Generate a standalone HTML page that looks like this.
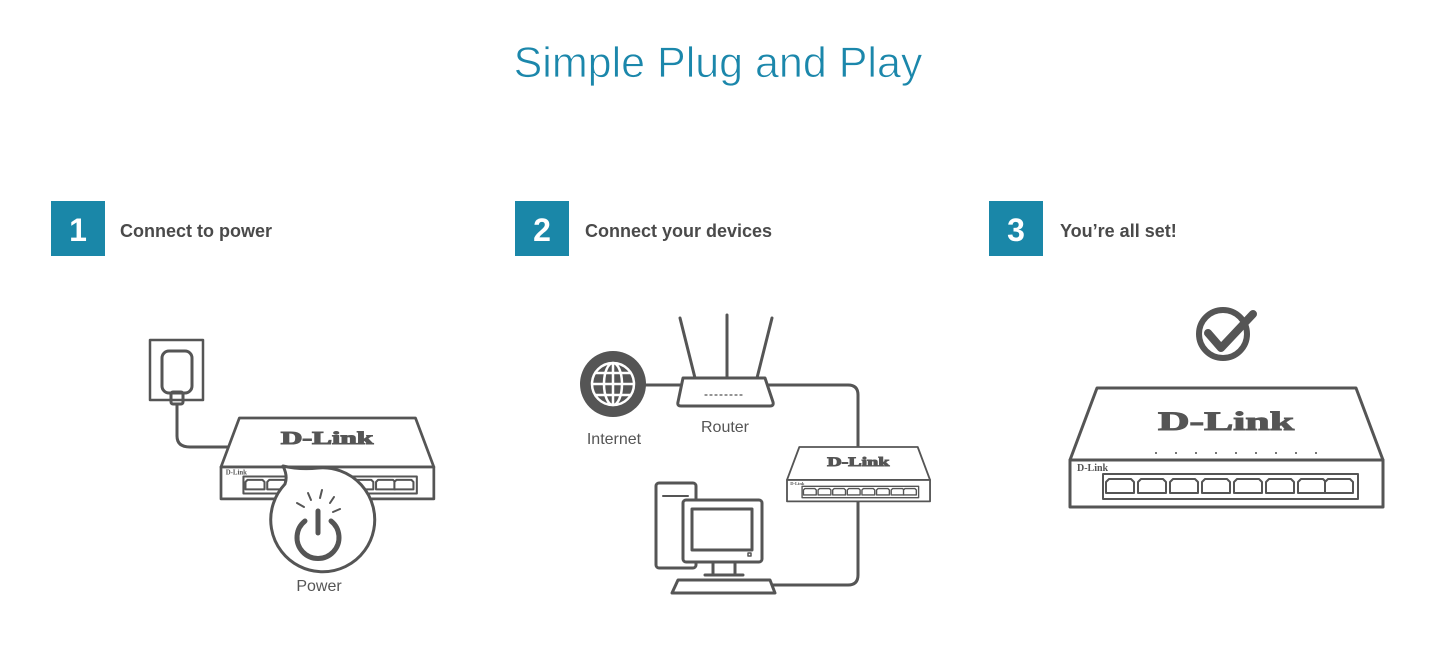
<!DOCTYPE html>
<html><head><meta charset="utf-8"><style>
html,body{margin:0;padding:0;background:#fff;width:1445px;height:664px;overflow:hidden}
svg{display:block}
</style></head><body>
<svg width="1445" height="664" viewBox="0 0 1445 664" xmlns="http://www.w3.org/2000/svg" font-family="Liberation Sans, sans-serif">
<text x="718" y="77" text-anchor="middle" font-size="43" fill="#1b87ab" stroke="#fff" stroke-width="0.8">Simple Plug and Play</text>

<g font-weight="bold">
<rect x="51" y="201" width="54" height="55" fill="#1a87a8"/>
<text x="78" y="241" text-anchor="middle" font-size="32" fill="#fff">1</text>
<text x="120" y="237" font-size="18" fill="#4a4a4a">Connect to power</text>
<rect x="515" y="201" width="54" height="55" fill="#1a87a8"/>
<text x="542" y="241" text-anchor="middle" font-size="32" fill="#fff">2</text>
<text x="585" y="237" font-size="18" fill="#4a4a4a">Connect your devices</text>
<rect x="989" y="201" width="54" height="55" fill="#1a87a8"/>
<text x="1016" y="241" text-anchor="middle" font-size="32" fill="#fff">3</text>
<text x="1060" y="237" font-size="18" fill="#4a4a4a">You’re all set!</text>
</g>

<g fill="none" stroke="#555" stroke-width="3" stroke-linejoin="round" stroke-linecap="round">
<rect x="150" y="340" width="53" height="60" stroke-width="2.5"/>
<rect x="162" y="351" width="30" height="42" rx="7"/>
<rect x="171" y="392" width="12" height="12" rx="2"/>
<path d="M177 404 V436 Q177 447 190 447 H230"/>
<path d="M645 385 H680"/>
<path d="M768 385 H848 Q858 385 858 395 V448"/>
<path d="M858 502 V575 Q858 585 848 585 H772"/>
<path d="M683 378 H765 L773 402 Q774 406 770 406 H681 Q677 406 678 402 Z"/>
<path d="M695 378 L680 318 M727 378 V315 M757 378 L772 318"/>
<path d="M705 395 H745" stroke-width="1.2" stroke-dasharray="2 3"/>
<rect x="656" y="483" width="40" height="85" rx="3"/>
<path d="M663 496 H688" stroke-width="2"/>
<rect x="683" y="500" width="79" height="62" rx="3" fill="#fff"/>
<rect x="692" y="509" width="60" height="41"/>
<rect x="748" y="553" width="3" height="3" stroke-width="1.5"/>
<path d="M713 562 V574 M735 562 V574 M705 575 H743"/>
<path d="M678 580 H770 L775 593 H672 Z" fill="#fff"/>
<circle cx="1223" cy="334" r="24" stroke-width="6"/>
<path d="M1208 333 L1221 348 L1253 314" stroke-width="8"/>
</g>

<circle cx="613" cy="384" r="33" fill="#555"/>
<g fill="none" stroke="#fff" stroke-width="2.5">
<circle cx="613" cy="384" r="21"/>
<ellipse cx="613" cy="384" rx="9" ry="21"/>
<path d="M592 384 H634 M613 363 V405 M596 373 H630 M596 395 H630"/>
</g>
<text x="614" y="444" text-anchor="middle" font-size="16" fill="#555">Internet</text>
<text x="725" y="432" text-anchor="middle" font-size="16" fill="#555">Router</text>

<g transform="translate(1070,388)">
<g fill="#fff" stroke="#555" stroke-width="3" stroke-linejoin="round">
<path d="M27 0 H286 L313 72 H0 Z"/>
<rect x="0" y="72" width="313" height="47"/>
<rect x="33" y="86" width="255" height="25" stroke-width="2"/>
<g stroke-width="2">
<path d="M39 91 h22 l3 3 v11 h-28 v-11 z"/><path d="M71 91 h22 l3 3 v11 h-28 v-11 z"/>
<path d="M103 91 h22 l3 3 v11 h-28 v-11 z"/><path d="M135 91 h22 l3 3 v11 h-28 v-11 z"/>
<path d="M167 91 h22 l3 3 v11 h-28 v-11 z"/><path d="M199 91 h22 l3 3 v11 h-28 v-11 z"/>
<path d="M231 91 h22 l3 3 v11 h-28 v-11 z"/><path d="M258 91 h22 l3 3 v11 h-28 v-11 z"/>
</g>
</g>
<g fill="#777"><rect x="85" y="64" width="2" height="2"/><rect x="105" y="64" width="2" height="2"/><rect x="125" y="64" width="2" height="2"/><rect x="145" y="64" width="2" height="2"/><rect x="165" y="64" width="2" height="2"/><rect x="185" y="64" width="2" height="2"/><rect x="205" y="64" width="2" height="2"/><rect x="225" y="64" width="2" height="2"/><rect x="245" y="64" width="2" height="2"/></g>
<text x="156" y="42" text-anchor="middle" font-family="Liberation Serif, serif" font-weight="bold" font-size="26" fill="#555" stroke="#555" stroke-width="1" textLength="136" lengthAdjust="spacingAndGlyphs">D-Link</text>
<text x="7" y="83" font-family="Liberation Serif, serif" font-weight="bold" font-size="10" fill="#555">D-Link</text>
</g>

<g transform="translate(787,447) scale(0.457)">
<g fill="#fff" stroke="#555" stroke-width="4" stroke-linejoin="round">
<path d="M27 0 H286 L313 72 H0 Z"/>
<rect x="0" y="72" width="313" height="47"/>
<rect x="33" y="86" width="255" height="25" stroke-width="3"/>
<g stroke-width="3">
<path d="M39 91 h22 l3 3 v11 h-28 v-11 z"/><path d="M71 91 h22 l3 3 v11 h-28 v-11 z"/>
<path d="M103 91 h22 l3 3 v11 h-28 v-11 z"/><path d="M135 91 h22 l3 3 v11 h-28 v-11 z"/>
<path d="M167 91 h22 l3 3 v11 h-28 v-11 z"/><path d="M199 91 h22 l3 3 v11 h-28 v-11 z"/>
<path d="M231 91 h22 l3 3 v11 h-28 v-11 z"/><path d="M258 91 h22 l3 3 v11 h-28 v-11 z"/>
</g>
</g>
<text x="156" y="42" text-anchor="middle" font-family="Liberation Serif, serif" font-weight="bold" font-size="28" fill="#555" stroke="#555" stroke-width="2" textLength="136" lengthAdjust="spacingAndGlyphs">D-Link</text>
<text x="7" y="83" font-family="Liberation Serif, serif" font-weight="bold" font-size="10" fill="#555">D-Link</text>
</g>

<g transform="translate(221,418) scale(0.68)">
<g fill="#fff" stroke="#555" stroke-width="4" stroke-linejoin="round">
<path d="M27 0 H286 L313 72 H0 Z"/>
<rect x="0" y="72" width="313" height="47"/>
<rect x="33" y="86" width="255" height="25" stroke-width="3"/>
<g stroke-width="3">
<path d="M39 91 h22 l3 3 v11 h-28 v-11 z"/><path d="M71 91 h22 l3 3 v11 h-28 v-11 z"/>
<path d="M103 91 h22 l3 3 v11 h-28 v-11 z"/><path d="M135 91 h22 l3 3 v11 h-28 v-11 z"/>
<path d="M167 91 h22 l3 3 v11 h-28 v-11 z"/><path d="M199 91 h22 l3 3 v11 h-28 v-11 z"/>
<path d="M231 91 h22 l3 3 v11 h-28 v-11 z"/><path d="M258 91 h22 l3 3 v11 h-28 v-11 z"/>
</g>
</g>
<text x="156" y="38" text-anchor="middle" font-family="Liberation Serif, serif" font-weight="bold" font-size="26" fill="#555" stroke="#555" stroke-width="1.5" textLength="136" lengthAdjust="spacingAndGlyphs">D-Link</text>
<text x="7" y="83" font-family="Liberation Serif, serif" font-weight="bold" font-size="10" fill="#555">D-Link</text>
</g>

<path d="M283 466 Q300 470 318 468 A52 52 0 1 1 285 484 Q288 476 283 466 Z" fill="#fff" stroke="#555" stroke-width="3" stroke-linejoin="round"/>
<g fill="none" stroke="#555" stroke-linecap="round">
<path d="M305 521 A21 21 0 1 0 331 521" stroke-width="5"/>
<path d="M318 511 V533" stroke-width="5"/>
<g stroke-width="2"><path d="M297 503 L304 507"/><path d="M308 493 L311 500"/><path d="M322 490 L320 498"/><path d="M334 497 L330 503"/><path d="M340 509 L333 512"/></g>
</g>
<text x="319" y="591" text-anchor="middle" font-size="16" fill="#555">Power</text>
</svg>
</body></html>
